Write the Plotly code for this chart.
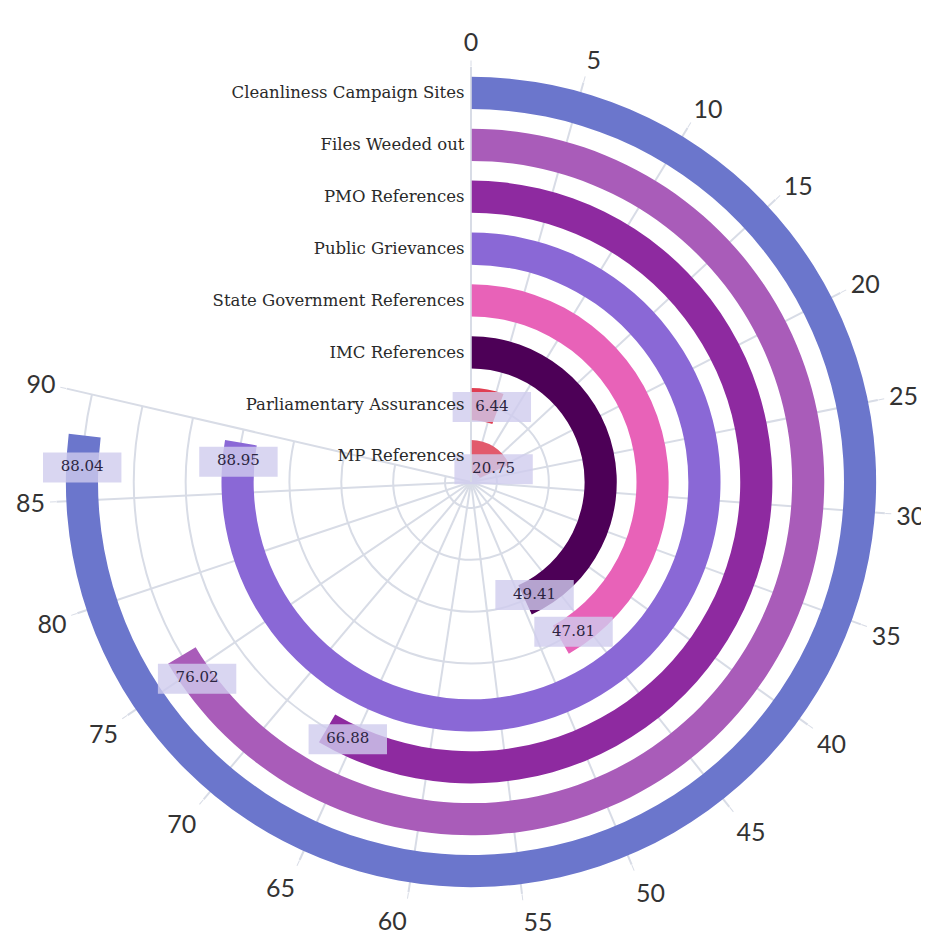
import plotly.graph_objects as go

# inner ring first, outer ring last
CATEGORIES = [
    "MP References",
    "Parliamentary Assurances",
    "IMC References",
    "State Government References",
    "Public Grievances",
    "PMO References",
    "Files Weeded out",
    "Cleanliness Campaign Sites",
]
VALUES = [20.75, 6.44, 49.41, 47.81, 88.95, 66.88, 76.02, 88.04]
COLORS = [
    "#e25a6c",
    "#e03e52",
    "#4d0057",
    "#e862b8",
    "#8a68d6",
    "#8e2aa0",
    "#a95cb9",
    "#6b76cc",
]
ANGLE_TICKS = list(range(0, 95, 5))

DEG_PER_UNIT = 283.0 / 90.0  # value 90 sits at ~283 deg clockwise from top
BAR_THICKNESS = 0.62
LABEL_SHIFT = 1.5

W, H = 929, 951
CX, CY, R = 463, 474, 415

ring = [i + 0.5 for i in range(len(CATEGORIES))]

fig = go.Figure()
fig.add_trace(
    go.Barpolar(
        r=[BAR_THICKNESS] * len(VALUES),
        base=[c - BAR_THICKNESS / 2 for c in ring],
        theta=[v * DEG_PER_UNIT / 2 for v in VALUES],
        width=[v * DEG_PER_UNIT for v in VALUES],
        marker={"color": COLORS, "line": {"width": 0}},
        hoverinfo="skip",
    )
)

label_theta = [(v - LABEL_SHIFT) * DEG_PER_UNIT for v in VALUES]
box = "rgba(208,204,238,0.8)"
fig.add_trace(
    go.Scatterpolar(
        r=ring,
        theta=label_theta,
        mode="markers",
        marker={
            "symbol": "line-ew",
            "size": 56,
            "color": box,
            "line": {"color": box, "width": 30},
        },
        hoverinfo="skip",
    )
)
fig.add_trace(
    go.Scatterpolar(
        r=ring,
        theta=label_theta,
        mode="text",
        text=[f"{v:.2f}" for v in VALUES],
        textfont={"family": "DejaVu Serif, serif", "size": 15, "color": "#2b2540"},
        hoverinfo="skip",
    )
)

grid = "#d8dce6"
# screen angles, counterclockwise from east: from the "90" spoke round to the top
sector_start = 90 - 90 * DEG_PER_UNIT
fig.update_layout(
    width=W,
    height=H,
    paper_bgcolor="white",
    margin={"l": 0, "r": 0, "t": 0, "b": 0},
    showlegend=False,
    polar={
        "domain": {
            "x": [(CX - R) / W, (CX + R) / W],
            "y": [1 - (CY + R) / H, 1 - (CY - R) / H],
        },
        "sector": [sector_start, 90],
        "bgcolor": "white",
        "angularaxis": {
            "rotation": 90,
            "direction": "clockwise",
            "tickmode": "array",
            "tickvals": [t * DEG_PER_UNIT for t in ANGLE_TICKS],
            "ticktext": [str(t) for t in ANGLE_TICKS],
            "tickfont": {"family": "Lato, sans-serif", "size": 25, "color": "#333333"},
            "showline": False,
            "ticks": "outside",
            "ticklen": 6,
            "tickcolor": grid,
            "gridcolor": grid,
            "gridwidth": 1.5,
        },
        "radialaxis": {
            "range": [0, len(CATEGORIES)],
            "angle": 90,
            "side": "counterclockwise",
            "tickmode": "array",
            "tickvals": ring,
            "ticktext": CATEGORIES,
            "tickangle": 90,
            "tickfont": {"family": "DejaVu Serif, serif", "size": 16.5, "color": "#2a2a2a"},
            "showline": True,
            "linecolor": grid,
            "linewidth": 1.5,
            "ticks": "",
            "gridcolor": grid,
            "gridwidth": 1.5,
        },
    },
)

fig.write_html("out.html")
